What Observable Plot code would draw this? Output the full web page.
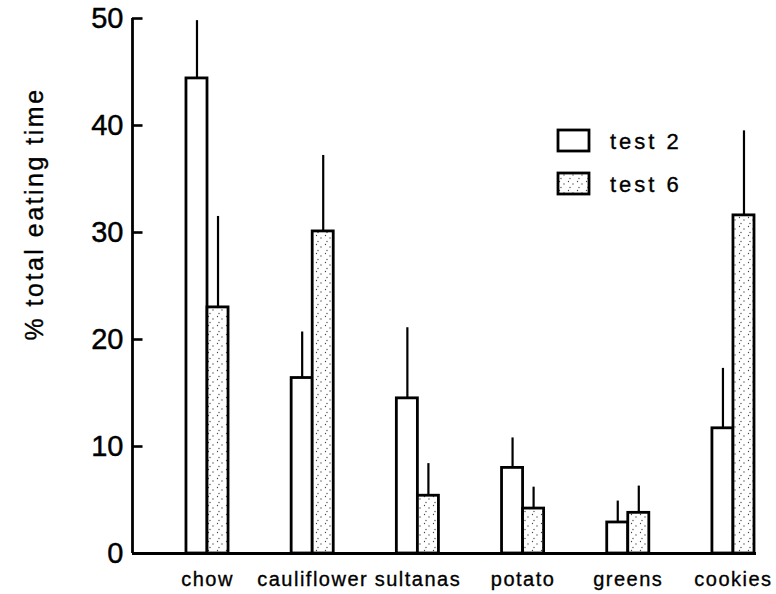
<!DOCTYPE html>
<html>
<head>
<meta charset="utf-8">
<script src="https://cdn.jsdelivr.net/npm/d3@7"></script>
<script src="https://cdn.jsdelivr.net/npm/@observablehq/plot@0.6"></script>
<style>
  html, body { margin: 0; padding: 0; background: #fff; }
  #chart { position: relative; width: 776px; height: 594px; }
  #chart svg { font-family: "Liberation Sans", Arial, sans-serif; }
  #chart svg [aria-label="x-axis tick label"] text { font-size: 20px; letter-spacing: 1.5px; stroke: black; stroke-width: 0.35px; }
  #chart svg [aria-label="y-axis tick label"] text { font-size: 29px; stroke: black; stroke-width: 0.45px; }
  #chart svg text.extra { stroke: black; stroke-width: 0.35px; }
</style>
</head>
<body>
<div id="chart"></div>
<script>
const categories = ["chow", "cauliflower", "sultanas", "potato", "greens", "cookies"];
const series = ["test 2", "test 6"];
const test2 = [44.4, 16.4, 14.5, 8.0, 2.9, 11.7];
const test2Err = [5.4, 4.3, 6.6, 2.8, 2.0, 5.6];
const test6 = [23.0, 30.1, 5.4, 4.2, 3.8, 31.6];
const test6Err = [8.5, 7.1, 3.0, 2.0, 2.5, 7.9];
const yTicks = [0, 10, 20, 30, 40, 50];
const yLabel = "% total eating time";

const barW = 0.2;
const rows = [];
categories.forEach((c, i) => {
  rows.push({cat: c, i, s: series[0], x1: i - barW, x2: i, v: test2[i], e: test2Err[i]});
  rows.push({cat: c, i, s: series[1], x1: i, x2: i + barW, v: test6[i], e: test6Err[i]});
});

const xDomain = [-0.713, 5.219];

const plot = Plot.plot({
  width: 776,
  height: 594,
  marginLeft: 132,
  marginRight: 20,
  marginTop: 18,
  marginBottom: 41,
  x: {type: "linear", domain: xDomain},
  y: {domain: [0, 50]},
  marks: [
    Plot.ruleX(rows, {x: d => (d.x1 + d.x2) / 2, y1: "v", y2: d => d.v + d.e, stroke: "black", strokeWidth: 2.2}),
    Plot.rectY(rows, {x1: "x1", x2: "x2", y1: 0, y2: "v",
      fill: d => d.s === series[0] ? "white" : "url(#stipple)",
      stroke: "black", strokeWidth: 2.8}),
    Plot.ruleY([0], {stroke: "black", strokeWidth: 2.8}),
    Plot.ruleX([xDomain[0]], {y1: 0, y2: 50, stroke: "black", strokeWidth: 2.8}),
    Plot.ruleY(yTicks.slice(1), {y: d => d, x1: xDomain[0], x2: xDomain[0] + 0.1, stroke: "black", strokeWidth: 2.6}),
    Plot.axisY(yTicks, {tickSize: 0, tickPadding: 9, label: null}),
    Plot.axisX(d3.range(categories.length), {tickSize: 0, tickPadding: 18, tickFormat: i => categories[i], label: null})
  ]
});

const svg = d3.select(plot);
const defs = svg.insert("defs", ":first-child");
const pat = defs.append("pattern").attr("id", "stipple").attr("patternUnits", "userSpaceOnUse")
  .attr("width", 9).attr("height", 9);
pat.append("rect").attr("width", 9).attr("height", 9).attr("fill", "white");
[[1.5, 1.5], [6, 4], [3, 7.5]].forEach(([cx, cy]) => {
  pat.append("circle").attr("cx", cx).attr("cy", cy).attr("r", 0.65).attr("fill", "#444");
});

// y-axis title
svg.append("text")
  .attr("class", "extra")
  .attr("transform", "translate(43,214) rotate(-90)")
  .attr("text-anchor", "middle")
  .attr("font-size", 25)
  .attr("letter-spacing", "2.5px")
  .attr("fill", "black")
  .text(yLabel);

// legend
const legend = svg.append("g");
series.forEach((s, k) => {
  const y0 = 130 + k * 43;
  legend.append("rect").attr("x", 558).attr("y", y0).attr("width", 31).attr("height", 21)
    .attr("fill", k === 0 ? "white" : "url(#stipple)").attr("stroke", "black").attr("stroke-width", 2.8);
  legend.append("text").attr("class", "extra").attr("x", 610).attr("y", y0 + 11).attr("dy", "0.35em")
    .attr("text-anchor", "start")
    .attr("font-size", 22).attr("letter-spacing", "3px").attr("fill", "black").text(s);
});

document.getElementById("chart").appendChild(plot);
</script>
</body>
</html>
